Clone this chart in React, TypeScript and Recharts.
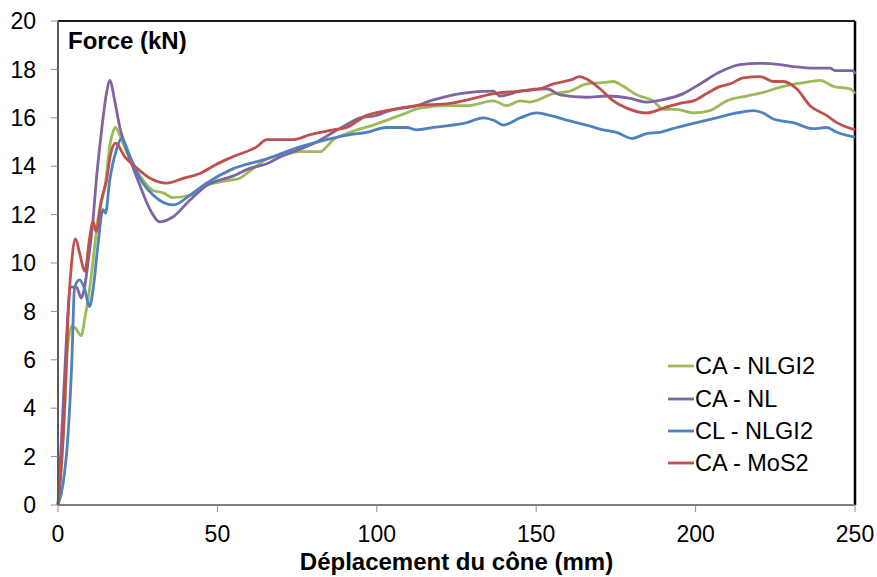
import React from "react";
import { LineChart, Line, XAxis, YAxis, ReferenceLine } from "recharts";

const seriesNames = ["CA - NLGI2", "CA - NL", "CL - NLGI2", "CA - MoS2"];
const seriesColors = ["#9BBB59", "#8064A2", "#4F81BD", "#C0504D"];
const xTicks = [0, 50, 100, 150, 200, 250];
const yTicks = [0, 2, 4, 6, 8, 10, 12, 14, 16, 18, 20];

const caNlgi2X = [0, 1.5, 3.1, 4.4, 5.5, 7.3, 8.4, 10, 11, 12.5, 15, 16.2, 17.2, 18, 19.9, 21.5, 25.7, 29.8, 33, 36, 41.4, 46.6, 52.9, 57, 59.2, 65.5, 71.7, 75.9, 79, 82.2, 86.4, 91.6, 98.9, 107.3, 113.6, 123, 128.2, 136.6, 140.7, 145, 148, 155.4, 160.6, 165.8, 171, 174.2, 177.3, 181.5, 186.7, 189.9, 194.1, 199.3, 204.5, 209.8, 216, 221.2, 227.5, 233.8, 239.1, 243.2, 248.4, 250];
const caNlgi2Y = [0, 2.5, 6.6, 7.4, 7.3, 7.0, 7.7, 9.0, 10.1, 11.8, 13.4, 14.8, 15.4, 15.6, 15.1, 14.6, 13.6, 13.0, 12.9, 12.7, 12.8, 13.2, 13.4, 13.5, 13.7, 14.3, 14.5, 14.6, 14.6, 14.6, 15.1, 15.4, 15.7, 16.1, 16.4, 16.5, 16.5, 16.7, 16.5, 16.7, 16.65, 17.0, 17.1, 17.4, 17.45, 17.5, 17.3, 16.95, 16.7, 16.35, 16.35, 16.2, 16.3, 16.7, 16.9, 17.05, 17.3, 17.45, 17.55, 17.3, 17.2, 17.0];

const caNlX = [0, 1.2, 2.5, 4.0, 5.8, 7.3, 8.2, 9.4, 11, 12, 13.6, 15.2, 16.2, 17.8, 19.4, 21.5, 25.7, 28.9, 32, 36, 41.4, 46.6, 55, 60, 65.5, 70, 75.9, 81.2, 86.3, 91.6, 94.7, 100, 104.1, 112.5, 116.7, 121, 126.1, 136.6, 138.6, 145, 153.3, 157.5, 165.8, 172.1, 179.4, 184.7, 189.9, 196.1, 201.4, 207.7, 213.9, 220.2, 226.5, 231.7, 236.9, 242.2, 243.7, 249.5, 250];
const caNlY = [0, 3.0, 6.5, 9.0, 9.0, 8.55, 8.9, 10.0, 11.8, 13.4, 15.4, 17.0, 17.55, 16.7, 15.6, 14.7, 13.2, 12.2, 11.7, 11.9, 12.6, 13.2, 13.6, 13.9, 14.1, 14.4, 14.7, 15.0, 15.4, 15.8, 16.0, 16.1, 16.3, 16.5, 16.7, 16.85, 17.0, 17.1, 16.9, 17.1, 17.2, 16.95, 16.85, 16.9, 16.8, 16.65, 16.75, 17.0, 17.4, 17.9, 18.2, 18.25, 18.2, 18.1, 18.05, 18.05, 17.95, 17.95, 17.8];

const clNlgi2X = [0, 1.5, 3.2, 4.3, 5.2, 6.8, 8.4, 9.9, 11, 12.5, 14.1, 14.9, 16.2, 18.4, 19.9, 22.6, 25.7, 29.9, 36.2, 41.4, 46.6, 55, 65.5, 75.9, 84.3, 91.6, 96.8, 103, 109.4, 112.5, 117.7, 128.2, 133.4, 136.6, 139.7, 145, 150.2, 154.3, 159.6, 165.8, 171, 175.2, 180, 184.7, 188.8, 194.1, 200.3, 206.6, 212.9, 218.1, 221.2, 224.4, 230.6, 236.9, 241.1, 244.3, 250];
const clNlgi2Y = [0, 0.8, 3.0, 5.8, 9.0, 9.3, 8.9, 8.2, 8.9, 10.7, 12.2, 12.06, 13.4, 14.7, 15.15, 14.4, 13.5, 12.8, 12.4, 12.8, 13.3, 13.9, 14.3, 14.8, 15.1, 15.3, 15.4, 15.6, 15.6, 15.5, 15.6, 15.8, 16.0, 15.9, 15.7, 16.0, 16.2, 16.1, 15.9, 15.7, 15.5, 15.4, 15.15, 15.35, 15.4, 15.6, 15.8, 16.0, 16.2, 16.3, 16.2, 15.95, 15.8, 15.55, 15.6, 15.4, 15.2];

const caMos2X = [0, 1, 2.2, 3.1, 4.2, 5.5, 6.8, 8.4, 9.9, 11, 12, 13.6, 15.2, 16.5, 18.1, 20.9, 24.1, 28.9, 34.1, 39.3, 44.5, 50, 55, 62.3, 65.5, 73.8, 79, 86.4, 90.6, 96.8, 103, 112.5, 123, 130.3, 136.6, 145, 151.2, 155.4, 161.6, 163.5, 165.8, 170, 174.2, 178.4, 184.7, 189.9, 195.1, 199.3, 203.5, 207.7, 210.8, 215, 220.2, 224.4, 227.5, 231.7, 235.9, 241.1, 244.3, 250];
const caMos2Y = [0, 1.5, 4.4, 7.7, 9.9, 11.0, 10.4, 9.65, 11.0, 11.7, 11.3, 12.6, 13.4, 14.5, 14.95, 14.4, 14.0, 13.5, 13.3, 13.5, 13.7, 14.1, 14.4, 14.8, 15.1, 15.1, 15.3, 15.5, 15.6, 16.1, 16.3, 16.5, 16.6, 16.8, 17.0, 17.1, 17.2, 17.4, 17.6, 17.7, 17.6, 17.2, 16.7, 16.4, 16.2, 16.4, 16.6, 16.7, 17.0, 17.3, 17.4, 17.65, 17.7, 17.5, 17.5, 17.2, 16.5, 16.1, 15.8, 15.5];

const toPoints = (xs: number[], ys: number[]) => xs.map((x, i) => ({ x, y: ys[i] }));
const seriesData = [
  toPoints(caNlgi2X, caNlgi2Y),
  toPoints(caNlX, caNlY),
  toPoints(clNlgi2X, clNlgi2Y),
  toPoints(caMos2X, caMos2Y),
];

const FONT = "Arial, 'Liberation Sans', sans-serif";

export default function App() {
  return (
    <div style={{ position: "absolute", left: 0, top: 0, width: 877, height: 577, background: "#fff" }}>
      <LineChart width={877} height={577} margin={{ top: 21, right: 22, left: 0, bottom: 0 }}>
        <XAxis
          dataKey="x"
          type="number"
          domain={[0, 250]}
          ticks={xTicks}
          height={72}
          axisLine={{ stroke: "#808080", strokeWidth: 2 }}
          tickLine={{ stroke: "#8c8c8c" }}
          tickSize={7}
          tickMargin={14}
          tick={{ fill: "#000", fontSize: 23, fontFamily: FONT }}
          allowDuplicatedCategory={false}
          label={{
            value: "Déplacement du cône (mm)",
            position: "insideBottom",
            offset: 7,
            style: { fill: "#000", fontSize: 24, fontWeight: "bold", fontFamily: FONT },
          }}
        />
        <YAxis
          type="number"
          domain={[0, 20]}
          ticks={yTicks}
          width={58}
          axisLine={{ stroke: "#5a5a5a", strokeWidth: 2 }}
          tickLine={{ stroke: "#8c8c8c" }}
          tickSize={7}
          tickMargin={15}
          tick={{ fill: "#000", fontSize: 23, fontFamily: FONT }}
        />
        <ReferenceLine y={20} stroke="#1a1a1a" strokeWidth={2} />
        <ReferenceLine x={250} stroke="#000" strokeWidth={2.5} />
        {seriesData.map((d, i) => (
          <Line
            key={seriesNames[i]}
            data={d}
            dataKey="y"
            name={seriesNames[i]}
            type="monotone"
            stroke={seriesColors[i]}
            strokeWidth={2.8}
            dot={false}
            activeDot={false}
            isAnimationActive={false}
          />
        ))}
      </LineChart>
      <div
        style={{
          position: "absolute",
          left: 668,
          top: 350,
          fontFamily: FONT,
          fontSize: 23.5,
          color: "#000",
        }}
      >
        {seriesNames.map((name, i) => (
          <div key={name} style={{ display: "flex", alignItems: "center", height: 32.4 }}>
            <svg width={26} height={4} style={{ display: "block" }}>
              <line x1={0} y1={2} x2={26} y2={2} stroke={seriesColors[i]} strokeWidth={2.8} />
            </svg>
            <span style={{ marginLeft: 1, lineHeight: "24px" }}>{name}</span>
          </div>
        ))}
      </div>
      <div
        style={{
          position: "absolute",
          left: 68,
          top: 28,
          fontFamily: FONT,
          fontSize: 24,
          fontWeight: "bold",
          color: "#000",
          lineHeight: "26px",
        }}
      >
        Force (kN)
      </div>
    </div>
  );
}
